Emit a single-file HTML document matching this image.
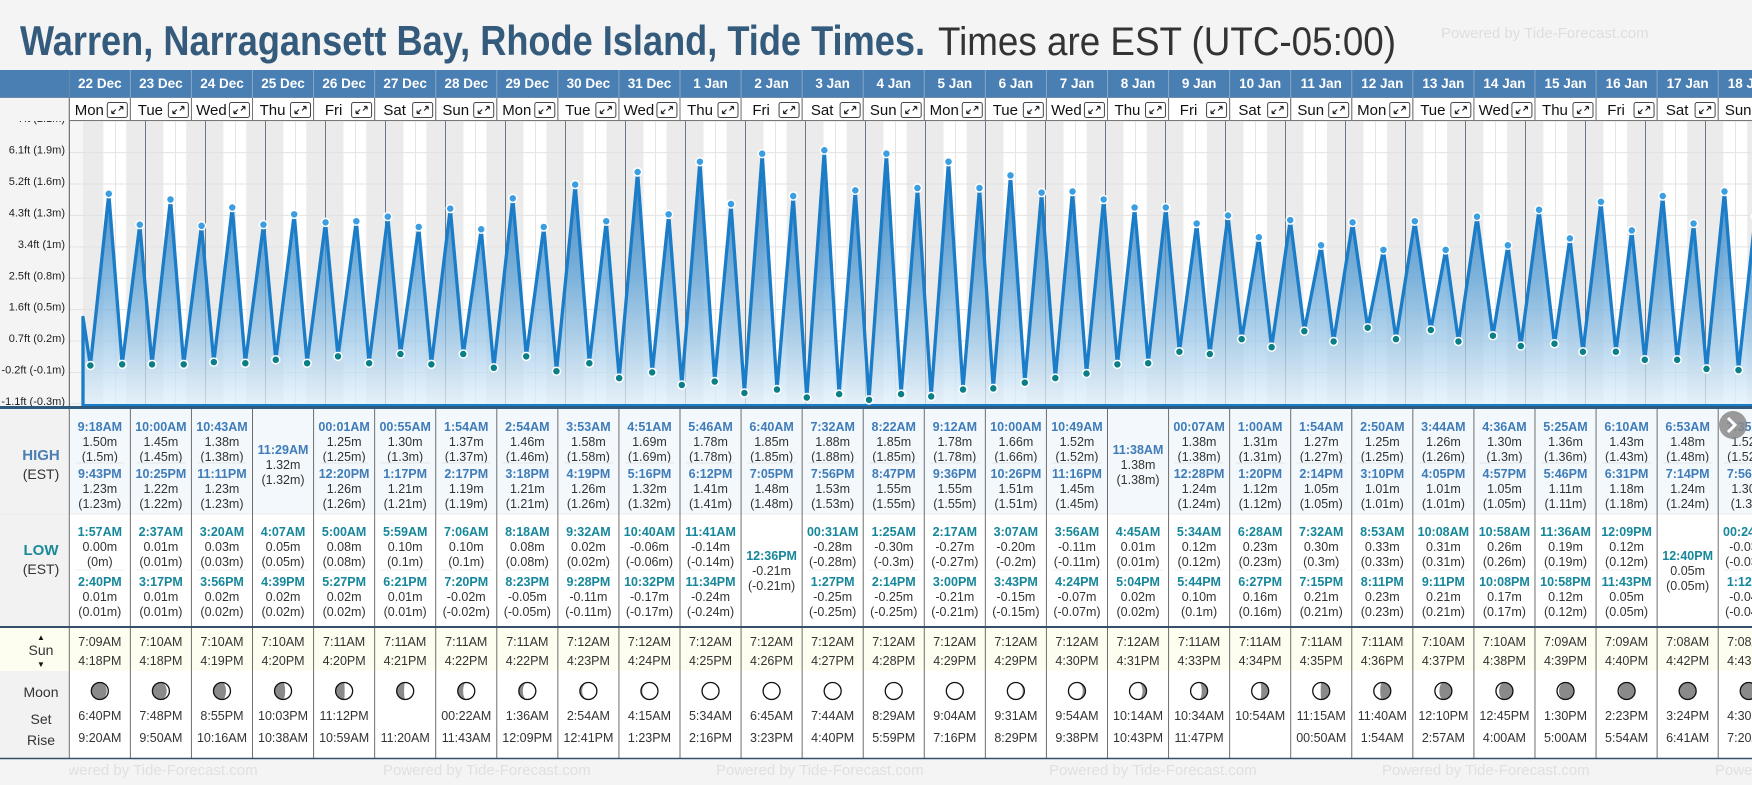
<!DOCTYPE html>
<html><head><meta charset="utf-8">
<style>
html,body{margin:0;padding:0;background:#f4f4f4;}
body{width:1752px;height:780px;overflow:hidden;font-family:"Liberation Sans",Arial,sans-serif;}
svg text{font-family:"Liberation Sans",Arial,sans-serif;}
</style></head>
<body>
<svg id="root" xmlns="http://www.w3.org/2000/svg" width="1752" height="780" viewBox="0 0 1752 780">
  <rect x="0" y="0" width="1752" height="780" fill="#f4f4f4"/>
  <text x="20" y="55" font-size="42" font-weight="bold" fill="#345a7c" textLength="905" lengthAdjust="spacingAndGlyphs">Warren, Narragansett Bay, Rhode Island, Tide Times.</text>
  <text x="938" y="55" font-size="40" fill="#333" textLength="458" lengthAdjust="spacingAndGlyphs">Times are EST (UTC-05:00)</text>
  <text x="1441" y="38" font-size="15" fill="#dedede">Powered by Tide-Forecast.com</text>
  <g id="chart"></g>
  <g id="table"></g>
  <g id="head"></g>
</svg>
<script>
// ---- data ----
const dateLabels = ["22 Dec","23 Dec","24 Dec","25 Dec","26 Dec","27 Dec","28 Dec","29 Dec","30 Dec","31 Dec","1 Jan","2 Jan","3 Jan","4 Jan","5 Jan","6 Jan","7 Jan","8 Jan","9 Jan","10 Jan","11 Jan","12 Jan","13 Jan","14 Jan","15 Jan","16 Jan","17 Jan","18 Jan"];
const dayNames = ["Mon","Tue","Wed","Thu","Fri","Sat","Sun","Mon","Tue","Wed","Thu","Fri","Sat","Sun","Mon","Tue","Wed","Thu","Fri","Sat","Sun","Mon","Tue","Wed","Thu","Fri","Sat","Sun"];
const evDay = [-1,0,0,0,0,1,1,1,1,2,2,2,2,3,3,3,4,4,4,4,5,5,5,5,6,6,6,6,7,7,7,7,8,8,8,8,9,9,9,9,10,10,10,10,11,11,11,12,12,12,12,13,13,13,13,14,14,14,14,15,15,15,15,16,16,16,16,17,17,17,18,18,18,18,19,19,19,19,20,20,20,20,21,21,21,21,22,22,22,22,23,23,23,23,24,24,24,24,25,25,25,25,26,26,26,27,27,27,27];
const evTime = ["23:00","01:57","09:18","14:40","21:43","02:37","10:00","15:17","22:25","03:20","10:43","15:56","23:11","04:07","11:29","16:39","00:01","05:00","12:20","17:27","00:55","05:59","13:17","18:21","01:54","07:06","14:17","19:20","02:54","08:18","15:18","20:23","03:53","09:32","16:19","21:28","04:51","10:40","17:16","22:32","05:46","11:41","18:12","23:34","06:40","12:36","19:05","00:31","07:32","13:27","19:56","01:25","08:22","14:14","20:47","02:17","09:12","15:00","21:36","03:07","10:00","15:43","22:26","03:56","10:49","16:24","23:16","04:45","11:38","17:04","00:07","05:34","12:28","17:44","01:00","06:28","13:20","18:27","01:54","07:32","14:14","19:15","02:50","08:53","15:10","20:11","03:44","10:08","16:05","21:11","04:36","10:58","16:57","22:08","05:25","11:36","17:46","22:58","06:10","12:09","18:31","23:43","06:53","12:40","19:14","00:24","07:35","13:12","19:56"];
const evLevel = [0.42,0.00,1.50,0.01,1.23,0.01,1.45,0.01,1.22,0.03,1.38,0.02,1.23,0.05,1.32,0.02,1.25,0.08,1.26,0.02,1.30,0.10,1.21,0.01,1.37,0.10,1.19,-0.02,1.46,0.08,1.21,-0.05,1.58,0.02,1.26,-0.11,1.69,-0.06,1.32,-0.17,1.78,-0.14,1.41,-0.24,1.85,-0.21,1.48,-0.28,1.88,-0.25,1.53,-0.30,1.85,-0.25,1.55,-0.27,1.78,-0.21,1.55,-0.20,1.66,-0.15,1.51,-0.11,1.52,-0.07,1.45,0.01,1.38,0.02,1.38,0.12,1.24,0.10,1.31,0.23,1.12,0.16,1.27,0.30,1.05,0.21,1.25,0.33,1.01,0.23,1.26,0.31,1.01,0.21,1.30,0.26,1.05,0.17,1.36,0.19,1.11,0.12,1.43,0.12,1.18,0.05,1.48,0.05,1.24,-0.03,1.52,-0.04,1.30];
const evKind = ["S","L","H","L","H","L","H","L","H","L","H","L","H","L","H","L","H","L","H","L","H","L","H","L","H","L","H","L","H","L","H","L","H","L","H","L","H","L","H","L","H","L","H","L","H","L","H","L","H","L","H","L","H","L","H","L","H","L","H","L","H","L","H","L","H","L","H","L","H","L","H","L","H","L","H","L","H","L","H","L","H","L","H","L","H","L","H","L","H","L","H","L","H","L","H","L","H","L","H","L","H","L","H","L","H","L","H","L","H"];
const sunRise = ["7:09AM","7:10AM","7:10AM","7:10AM","7:11AM","7:11AM","7:11AM","7:11AM","7:12AM","7:12AM","7:12AM","7:12AM","7:12AM","7:12AM","7:12AM","7:12AM","7:12AM","7:12AM","7:11AM","7:11AM","7:11AM","7:11AM","7:10AM","7:10AM","7:09AM","7:09AM","7:08AM","7:08AM"];
const sunSet = ["4:18PM","4:18PM","4:19PM","4:20PM","4:20PM","4:21PM","4:22PM","4:22PM","4:23PM","4:24PM","4:25PM","4:26PM","4:27PM","4:28PM","4:29PM","4:29PM","4:30PM","4:31PM","4:33PM","4:34PM","4:35PM","4:36PM","4:37PM","4:38PM","4:39PM","4:40PM","4:42PM","4:43PM"];
const moonSet = ["6:40PM","7:48PM","8:55PM","10:03PM","11:12PM","","00:22AM","1:36AM","2:54AM","4:15AM","5:34AM","6:45AM","7:44AM","8:29AM","9:04AM","9:31AM","9:54AM","10:14AM","10:34AM","10:54AM","11:15AM","11:40AM","12:10PM","12:45PM","1:30PM","2:23PM","3:24PM","4:30PM"];
const moonRise = ["9:20AM","9:50AM","10:16AM","10:38AM","10:59AM","11:20AM","11:43AM","12:09PM","12:41PM","1:23PM","2:16PM","3:23PM","4:40PM","5:59PM","7:16PM","8:29PM","9:38PM","10:43PM","11:47PM","","00:50AM","1:54AM","2:57AM","4:00AM","5:00AM","5:54AM","6:41AM","7:20AM"];
const moonPhase = [0.10,0.13,0.17,0.21,0.24,0.27,0.31,0.34,0.38,0.41,0.44,0.47,0.50,0.53,0.57,0.60,0.63,0.66,0.70,0.73,0.76,0.79,0.83,0.86,0.89,0.92,0.96,0.99];
const tickFt = ["-1.1ft","-0.2ft","0.7ft","1.6ft","2.5ft","3.4ft","4.3ft","5.2ft","6.1ft","7ft"];
const tickM = ["(-0.3m)","(-0.1m)","(0.2m)","(0.5m)","(0.8m)","(1m)","(1.3m)","(1.6m)","(1.9m)","(2.1m)"];
const tickVal = [-0.335,-0.061,0.213,0.488,0.762,1.036,1.311,1.585,1.859,2.134];

// ---- geometry ----
const NS="http://www.w3.org/2000/svg";
const CT=121, CB=406, LEFT=69.3, COLW=61.07, DAY0=85.5, DAYW=60;
function yScale(m){return 365.5 - m*114.5;}
function xScale(day, hhmm){const p=hhmm.split(":");return DAY0 + (day + (+p[0]*60 + +p[1])/1440)*DAYW;}
function colX(i){return LEFT + i*COLW;}
function mk(tag, attrs, parent, txt){const e=document.createElementNS(NS,tag);for(const k in attrs)e.setAttribute(k,attrs[k]);if(txt!==undefined)e.textContent=txt;parent.appendChild(e);return e;}
function toMin(s){const m=s.match(/(\d+):(\d+)(AM|PM)/);let h=+m[1];if(m[3]==="PM"&&h!==12)h+=12;if(m[3]==="AM"&&h===12)h=0;return h*60 + +m[2];}
function fmtTime(hhmm){const p=hhmm.split(":");let h=+p[0];const ap=h>=12?"PM":"AM";let hs;if(h===0)hs="00";else if(h>12)hs=String(h-12);else hs=String(h);return hs+":"+p[1]+ap;}
function fmtParen(v){let s=String(parseFloat(v.toFixed(2)));if(s==="-0")s="0";return "("+s+"m)";}

const chart=document.getElementById('chart');
const table=document.getElementById('table');
const head=document.getElementById('head');

const defs=mk('defs',{},chart);
const cp=mk('clipPath',{id:'plotclip'},defs);
mk('rect',{x:LEFT,y:CT,width:1752-LEFT,height:CB-CT},cp);
const cp2=mk('clipPath',{id:'footclip'},defs);
mk('rect',{x:LEFT,y:758,width:1752-LEFT,height:22},cp2);
const grad=mk('linearGradient',{id:'fillgrad',x1:0,y1:140,x2:0,y2:CB,gradientUnits:'userSpaceOnUse'},defs);
mk('stop',{offset:'0','stop-color':'#1a68ad','stop-opacity':'0.92'},grad);
mk('stop',{offset:'0.5','stop-color':'#4f9ad3','stop-opacity':'0.72'},grad);
mk('stop',{offset:'1','stop-color':'#e6f3fc','stop-opacity':'0.75'},grad);

const axisBg=mk('rect',{x:0,y:CT,width:LEFT,height:CB-CT,fill:'#f4f4f4'},chart);


const plot=mk('g',{'clip-path':'url(#plotclip)'},chart);


const pbg=mk('rect',{x:LEFT,y:CT,width:1752-LEFT,height:CB-CT,fill:'#f6f6f6'},plot);



for(let d=0; d<=28; d++){
  const start = d===0 ? 83 : DAY0 + (d-1 + toMin(sunSet[d-1])/1440)*DAYW;
  const endRise = d<28 ? DAY0 + (d + toMin(sunRise[d])/1440)*DAYW : 1760;
  const n=mk('rect',{x:start,y:CT,width:Math.max(0,endRise-start),height:CB-CT,fill:'#ebebeb'},plot);
  
  
  if(d<28){
    const ds=endRise, de=DAY0 + (d + toMin(sunSet[d])/1440)*DAYW;
    const w=mk('rect',{x:ds,y:CT,width:de-ds,height:CB-CT,fill:'#ffffff'},plot);
    
    
  }
}
tickVal.forEach((v,i)=>{
  const g=mk('line',{x1:LEFT,x2:1752,y1:yScale(v),y2:yScale(v),stroke:'#e2e2e2','stroke-width':1},plot);
  
  
});
for(let d=0; d<28; d++){
  const xn=DAY0+(d+0.5)*DAYW;
  const nl=mk('line',{x1:xn,x2:xn,y1:CT,y2:CB,stroke:'#e4e4e4','stroke-width':1},plot);
  
  
  const xm=DAY0+(d+1)*DAYW;
  const ml=mk('line',{x1:xm,x2:xm,y1:CT,y2:CB,stroke:'#6a7887','stroke-width':1},plot);
  
  
}
const pts=evDay.map((d,i)=>[xScale(d,evTime[i]), yScale(evLevel[i])]);
pts[0][0]=Math.max(pts[0][0],83);
let dLine="M"+pts.map(p=>p[0].toFixed(1)+","+p[1].toFixed(1)).join(" L");
const last=pts[pts.length-1];
const area=mk('path',{d:"M"+pts[0][0].toFixed(1)+","+CB+" L"+pts.map(p=>p[0].toFixed(1)+","+p[1].toFixed(1)).join(" L")+" L"+(last[0]+40)+","+(yScale(0.6))+" L"+(last[0]+40)+","+CB+" Z",fill:'url(#fillgrad)'},plot);


const line=mk('path',{d:"M"+pts[0][0].toFixed(1)+","+CB+" L"+dLine.slice(1)+" L"+(last[0]+40)+","+yScale(0.6),fill:'none',stroke:'#1b7cc7','stroke-width':3.3,'stroke-linejoin':'round'},plot);


const base=mk('line',{x1:83,x2:1752,y1:CB-1,y2:CB-1,stroke:'#1b7cc7','stroke-width':2},plot);


pts.forEach((p,i)=>{
  if(evKind[i]==="S")return;
  const c=mk('circle',{cx:p[0],cy:p[1],r:4,fill:evKind[i]==="H"?'#3a9ee0':'#0b7f88',stroke:'#ffffff','stroke-width':1.5},plot);
  
  
});
tickVal.forEach((v,i)=>{
  const t=mk('text',{x:65,y:yScale(v)+1,'font-size':11,fill:'#222','text-anchor':'end'},chart,tickFt[i]+" "+tickM[i]);
  
  
});
const axl=mk('line',{x1:LEFT,x2:LEFT,y1:CT,y2:CB,stroke:'#555','stroke-width':1},chart);



// ---- header ----
const hb=mk('rect',{x:0,y:70,width:1752,height:28,fill:'#4a7fb3'},head);


const dr=mk('rect',{x:0,y:98,width:1752,height:23,fill:'#ffffff'},head);


const dl=mk('rect',{x:0,y:98,width:LEFT,height:23,fill:'#f4f4f4'},head);


mk('line',{x1:0,x2:1752,y1:97.5,y2:97.5,stroke:'#6d8aa6','stroke-width':1},head);
mk('line',{x1:LEFT,x2:1752,y1:120.5,y2:120.5,stroke:'#777','stroke-width':1},head);
dateLabels.forEach((lab,i)=>{
  const x=colX(i);
  mk('line',{x1:x,x2:x,y1:70,y2:121,stroke:i===0?'#6d8aa6':'#8aa6c2','stroke-width':1},head);
  const t=mk('text',{x:x+COLW/2,y:88,'font-size':13.5,'font-weight':'bold',fill:'#ffffff','text-anchor':'middle'},head,lab);
  
  
  mk('line',{x1:x,x2:x,y1:98,y2:121,stroke:'#777','stroke-width':1},head);
  const dn=mk('text',{x:x+20,y:115,'font-size':15,fill:'#111','text-anchor':'middle'},head,dayNames[i]);
  
  
  const b=mk('g',{},head);
  
  
  mk('rect',{x:x+38,y:102.5,width:20,height:15,rx:2,fill:'#fff',stroke:'#444','stroke-width':1},b);
  mk('path',{d:`M${x+42.5} ${113.5} l4 -4 M${x+42.5} ${113.5} h3 M${x+42.5} ${113.5} v-3 M${x+53.5} ${106.5} l-4 4 M${x+53.5} ${106.5} h-3 M${x+53.5} ${106.5} v3`,stroke:'#222','stroke-width':1.2,fill:'none'},b);
});

// ---- table ----
const T0=409, HL=514, LB=626, SB=671, MB=758;
const tb=mk('rect',{x:LEFT,y:T0,width:1752-LEFT,height:MB-T0,fill:'#ffffff'},table);


const hbg=mk('rect',{x:LEFT,y:T0,width:1752-LEFT,height:HL-T0,fill:'#f3f8fc'},table);


const sbg=mk('rect',{x:0,y:LB+2,width:1752,height:SB-LB-2,fill:'#fdfdf0'},table);


const lbg=mk('rect',{x:0,y:T0,width:LEFT,height:LB-T0,fill:'#f2f2f2'},table);


const mlb=mk('rect',{x:0,y:SB,width:LEFT,height:MB-SB,fill:'#f2f2f2'},table);


mk('line',{x1:0,x2:1752,y1:HL,y2:HL,stroke:'#ececec','stroke-width':1},table);
function lbl(x,y,s,opt,name){const t=mk('text',Object.assign({x:x,y:y,'text-anchor':'middle'},opt),table,s);return t;}
lbl(41,460,"HIGH",{'font-size':15,'font-weight':'bold',fill:'#4a7fb5'},'high-label');
lbl(41,479,"(EST)",{'font-size':14,fill:'#333'},'high-tz-label');
lbl(41,555,"LOW",{'font-size':15,'font-weight':'bold',fill:'#1a8a9a'},'low-label');
lbl(41,574,"(EST)",{'font-size':14,fill:'#333'},'low-tz-label');
lbl(41,640,"▲",{'font-size':8,fill:'#111'},'sunrise-arrow');
lbl(41,655,"Sun",{'font-size':14,fill:'#333'},'sun-label');
lbl(41,667,"▼",{'font-size':8,fill:'#111'},'sunset-arrow');
lbl(41,697,"Moon",{'font-size':14,fill:'#333'},'moon-label');
lbl(41,724,"Set",{'font-size':14,fill:'#333'},'moonset-label');
lbl(41,745,"Rise",{'font-size':14,fill:'#333'},'moonrise-label');

function entry(cx,yTop,ev,color,name){
  lbl(cx,yTop,fmtTime(evTime[ev]),{'font-size':12.5,'font-weight':'bold',fill:color},name+'-time');
  lbl(cx,yTop+15,evLevel[ev].toFixed(2)+"m",{'font-size':12.5,fill:'#333'},name+'-height');
  lbl(cx,yTop+30,fmtParen(evLevel[ev]),{'font-size':12.5,fill:'#333'},name+'-height-alt');
}
for(let i=0;i<28;i++){
  const x=colX(i), cx=x+COLW/2;
  const hi=[],lo=[];
  evDay.forEach((d,k)=>{if(d===i){if(evKind[k]==="H")hi.push(k);else if(evKind[k]==="L")lo.push(k);}});
  if(hi.length===1) entry(cx,454,hi[0],'#3f7cb8','high-tide');
  else {entry(cx,431,hi[0],'#3f7cb8','high-tide');entry(cx,478,hi[1],'#3f7cb8','high-tide');
    mk('line',{x1:x+6,x2:x+COLW-6,y1:463,y2:463,stroke:'#e2e6ea','stroke-width':1},table);}
  if(lo.length===1) entry(cx,560,lo[0],'#16879a','low-tide');
  else {entry(cx,536,lo[0],'#16879a','low-tide');entry(cx,586,lo[1],'#16879a','low-tide');
    mk('line',{x1:x+6,x2:x+COLW-6,y1:570,y2:570,stroke:'#ececec','stroke-width':1},table);}
  lbl(cx,646,sunRise[i],{'font-size':12.5,fill:'#333'},'sunrise-time');
  lbl(cx,665,sunSet[i],{'font-size':12.5,fill:'#333'},'sunset-time');
  const mcx=cx, mcy=691, r=8.5, ph=moonPhase[i];
  const mg=mk('g',{},table);
  
  
  mk('circle',{cx:mcx,cy:mcy,r:r,fill:'#8a8a8a'},mg);
  const k=Math.cos(2*Math.PI*ph), rx=Math.abs(k)*r;
  const waxing=ph<0.5;
  const sweepOuter=waxing?1:0;
  const termSweep = (k>0) ? (waxing?0:1) : (waxing?1:0);
  mk('path',{d:`M${mcx},${mcy-r} A${r},${r} 0 0 ${sweepOuter} ${mcx},${mcy+r} A${rx.toFixed(2)},${r} 0 0 ${termSweep} ${mcx},${mcy-r} Z`,fill:'#ffffff'},mg);
  mk('circle',{cx:mcx,cy:mcy,r:r,fill:'none',stroke:'#111','stroke-width':1.3},mg);
  lbl(cx,720,moonSet[i],{'font-size':12.5,fill:'#333'},'moonset-time');
  lbl(cx,742,moonRise[i],{'font-size':12.5,fill:'#333'},'moonrise-time');
  const vl=mk('line',{x1:x,x2:x,y1:T0,y2:MB,stroke:'#6f6f6f','stroke-width':1},table);
  
  
}
mk('line',{x1:0,x2:1752,y1:407.5,y2:407.5,stroke:'#2f5a80','stroke-width':3},table);
mk('line',{x1:0,x2:1752,y1:LB+1,y2:LB+1,stroke:'#34506a','stroke-width':2},table);
mk('line',{x1:0,x2:1752,y1:MB+0.5,y2:MB+0.5,stroke:'#34506a','stroke-width':1.5},table);
const ft=mk('rect',{x:0,y:MB+1.5,width:1752,height:780-MB,fill:'#f4f4f4'},table);


const fg=mk('g',{'clip-path':'url(#footclip)'},table);


for(let k=0;k<6;k++){
  const t=mk('text',{x:50+k*333,y:775,'font-size':15,fill:'#e0e0e0'},fg,"Powered by Tide-Forecast.com");
  
  
}
const nb=mk('g',{},table);


mk('circle',{cx:1733,cy:425,r:14,fill:'#8a8a8a','fill-opacity':'0.85'},nb);
mk('path',{d:'M1728,418 l7,7 l-7,7',stroke:'#fff','stroke-width':3,fill:'none'},nb);
</script>
</body></html>
